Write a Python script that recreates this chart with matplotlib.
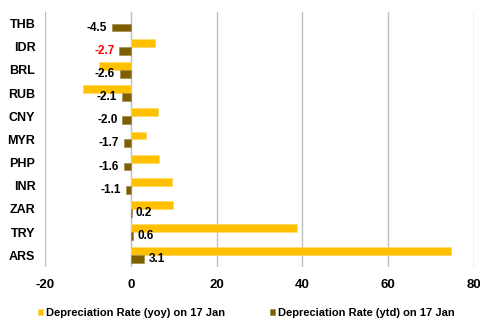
import numpy as np
import matplotlib.pyplot as plt

plt.rcParams['font.family'] = ['Liberation Sans', 'DejaVu Sans']
plt.rcParams['font.weight'] = 'bold'
plt.rcParams['axes.unicode_minus'] = False

currencies = ["THB", "IDR", "BRL", "RUB", "CNY", "MYR", "PHP", "INR", "ZAR", "TRY", "ARS"]
yoy = [np.nan, 5.6, -7.4, -11.1, 6.3, 3.5, 6.5, 9.7, 9.9, 38.8, 74.7]
ytd = [-4.5, -2.7, -2.6, -2.1, -2.0, -1.7, -1.6, -1.1, 0.2, 0.6, 3.1]
label_colors = ["black", "red"] + ["black"] * 9

yellow = "#FFC000"
brown = "#7F6000"
grid_c = "#BFBFBF"

fig = plt.figure(figsize=(4.81, 3.2), dpi=100)
ax = fig.add_axes([0.0936, 0.166, 0.8918, 0.7965])

pos = np.arange(len(currencies))
h = 0.34
ax.barh(pos - h / 2, yoy, height=h, color=yellow, edgecolor="#FFD966", linewidth=0.5,
        label="Depreciation Rate (yoy) on 17 Jan", zorder=3)
ax.barh(pos + h / 2, ytd, height=h, color=brown, edgecolor="#A08A50", linewidth=0.5,
        label="Depreciation Rate (ytd) on 17 Jan", zorder=3)

for p, v, c in zip(pos, ytd, label_colors):
    if v < 0:
        ax.text(v - 1.1, p + h / 2, f"{v:.1f}", ha="right", va="center",
                fontsize=8.5, fontweight="bold", color=c)
    else:
        ax.text(v + 1.0, p + h / 2, f"{v:.1f}", ha="left", va="center",
                fontsize=8.5, fontweight="bold", color=c)

ax.set_xlim(-20, 80)
ax.set_ylim(len(currencies) - 0.5, -0.5)
ax.set_xticks([-20, 0, 20, 40, 60, 80])
ax.set_yticks(pos)
ax.set_yticklabels(currencies)
ax.tick_params(axis="x", length=0, labelsize=9.5, pad=9)
ax.tick_params(axis="y", length=0, labelsize=9, pad=7)
for t in ax.get_xticklabels() + ax.get_yticklabels():
    t.set_fontweight("bold")

for s in ax.spines.values():
    s.set_visible(False)
ax.xaxis.grid(True, color=grid_c, linewidth=1.0, zorder=0)
ax.axvline(0, color=grid_c, linewidth=0.8, zorder=2)

leg = fig.legend(loc="lower center", bbox_to_anchor=(0.512, -0.025), ncol=2, frameon=False,
                 fontsize=8, handlelength=0.5, handleheight=0.5, handletextpad=0.25,
                 columnspacing=4.0)
for t in leg.get_texts():
    t.set_fontweight("bold")

fig.savefig("out.png", dpi=100)
